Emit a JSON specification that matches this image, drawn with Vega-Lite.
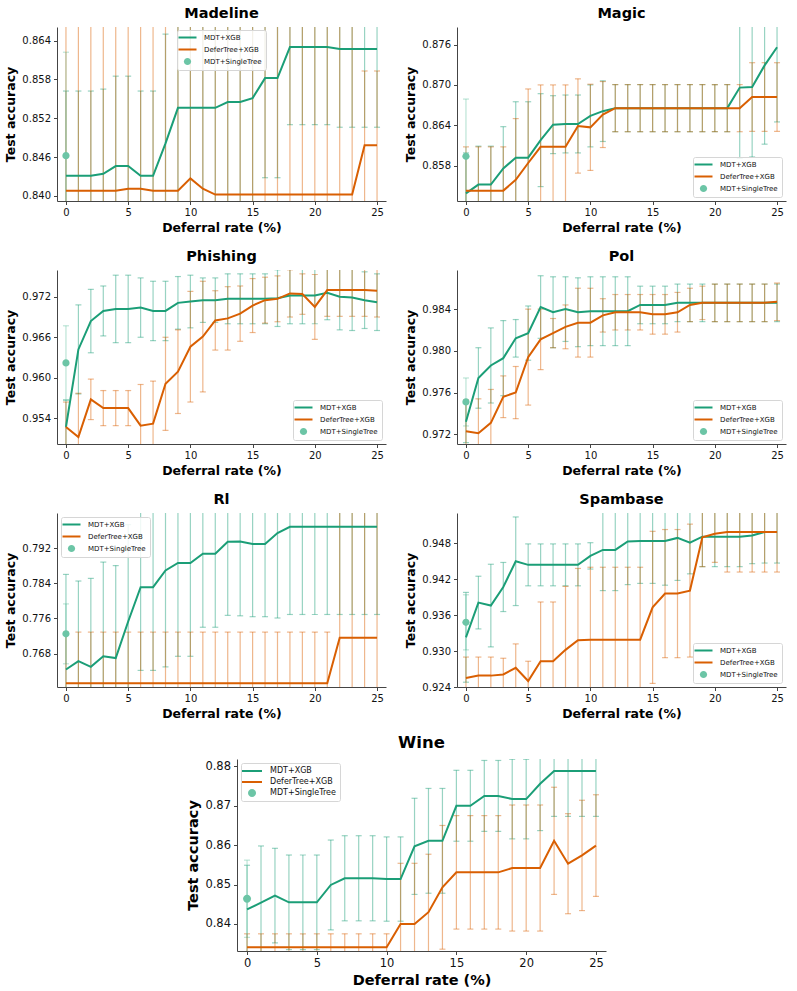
{
  "$schema": "https://vega.github.io/schema/vega-lite/v6.json",
  "padding": {"left": 4, "top": 5, "right": 4, "bottom": 2},
  "background": "white",
  "config": {
    "font": "DejaVu Sans",
    "view": {"stroke": null},
    "title": {"fontSize": 14.5, "fontWeight": "bold", "color": "#000", "anchor": "middle", "offset": 6},
    "axis": {
      "grid": false, "domainColor": "#444", "domainWidth": 1, "tickColor": "#444", "tickWidth": 1,
      "tickSize": 3.5, "labelFontSize": 10, "labelColor": "#111", "labelPadding": 3,
      "titleFontSize": 12.5, "titleFontWeight": "bold", "titleColor": "#000", "titlePadding": 4
    },
    "legend": {
      "labelFontSize": 7, "labelColor": "#111", "strokeColor": "#d6d6d6", "fillColor": "rgba(255,255,255,0.85)",
      "padding": 4, "cornerRadius": 2, "rowPadding": 3, "symbolSize": 324, "offset": 4, "symbolOffset": 3, "labelOffset": 13
    }
  },
  "datasets": {
    "Madeline": [
      {"s":"MDT+XGB","x":0,"y":0.8431,"e":0.0131},{"s":"MDT+XGB","x":1,"y":0.8431,"e":0.0131},{"s":"MDT+XGB","x":2,"y":0.8431,"e":0.0131},{"s":"MDT+XGB","x":3,"y":0.8434,"e":0.0131},{"s":"MDT+XGB","x":4,"y":0.8446,"e":0.0139},{"s":"MDT+XGB","x":5,"y":0.8446,"e":0.0139},{"s":"MDT+XGB","x":6,"y":0.8431,"e":0.0131},{"s":"MDT+XGB","x":7,"y":0.8431,"e":0.0131},{"s":"MDT+XGB","x":8,"y":0.8481,"e":0.0169},{"s":"MDT+XGB","x":9,"y":0.8536,"e":0.016},{"s":"MDT+XGB","x":10,"y":0.8536,"e":0.016},{"s":"MDT+XGB","x":11,"y":0.8536,"e":0.016},{"s":"MDT+XGB","x":12,"y":0.8536,"e":0.016},{"s":"MDT+XGB","x":13,"y":0.8545,"e":0.016},{"s":"MDT+XGB","x":14,"y":0.8545,"e":0.016},{"s":"MDT+XGB","x":15,"y":0.8551,"e":0.016},{"s":"MDT+XGB","x":16,"y":0.8582,"e":0.0154},{"s":"MDT+XGB","x":17,"y":0.8582,"e":0.0154},{"s":"MDT+XGB","x":18,"y":0.863,"e":0.012},{"s":"MDT+XGB","x":19,"y":0.863,"e":0.012},{"s":"MDT+XGB","x":20,"y":0.863,"e":0.012},{"s":"MDT+XGB","x":21,"y":0.863,"e":0.012},{"s":"MDT+XGB","x":22,"y":0.8627,"e":0.0121},{"s":"MDT+XGB","x":23,"y":0.8627,"e":0.0121},{"s":"MDT+XGB","x":24,"y":0.8627,"e":0.0121},{"s":"MDT+XGB","x":25,"y":0.8627,"e":0.0121},
      {"s":"DeferTree+XGB","x":0,"y":0.8408,"e":0.03},{"s":"DeferTree+XGB","x":1,"y":0.8408,"e":0.03},{"s":"DeferTree+XGB","x":2,"y":0.8408,"e":0.03},{"s":"DeferTree+XGB","x":3,"y":0.8408,"e":0.03},{"s":"DeferTree+XGB","x":4,"y":0.8408,"e":0.03},{"s":"DeferTree+XGB","x":5,"y":0.8411,"e":0.03},{"s":"DeferTree+XGB","x":6,"y":0.8411,"e":0.03},{"s":"DeferTree+XGB","x":7,"y":0.8408,"e":0.03},{"s":"DeferTree+XGB","x":8,"y":0.8408,"e":0.03},{"s":"DeferTree+XGB","x":9,"y":0.8408,"e":0.03},{"s":"DeferTree+XGB","x":10,"y":0.8427,"e":0.03},{"s":"DeferTree+XGB","x":11,"y":0.8411,"e":0.03},{"s":"DeferTree+XGB","x":12,"y":0.8402,"e":0.03},{"s":"DeferTree+XGB","x":13,"y":0.8402,"e":0.03},{"s":"DeferTree+XGB","x":14,"y":0.8402,"e":0.03},{"s":"DeferTree+XGB","x":15,"y":0.8402,"e":0.03},{"s":"DeferTree+XGB","x":16,"y":0.8402,"e":0.03},{"s":"DeferTree+XGB","x":17,"y":0.8402,"e":0.03},{"s":"DeferTree+XGB","x":18,"y":0.8402,"e":0.03},{"s":"DeferTree+XGB","x":19,"y":0.8402,"e":0.03},{"s":"DeferTree+XGB","x":20,"y":0.8402,"e":0.03},{"s":"DeferTree+XGB","x":21,"y":0.8402,"e":0.03},{"s":"DeferTree+XGB","x":22,"y":0.8402,"e":0.03},{"s":"DeferTree+XGB","x":23,"y":0.8402,"e":0.03},{"s":"DeferTree+XGB","x":24,"y":0.8478,"e":0.0115},{"s":"DeferTree+XGB","x":25,"y":0.8478,"e":0.0115},
      {"s":"MDT+SingleTree","x":0,"y":0.8462,"e":0.016}
    ],
    "Magic": [
      {"s":"MDT+XGB","x":0,"y":0.8539,"e":0.006},{"s":"MDT+XGB","x":1,"y":0.8552,"e":0.0057},{"s":"MDT+XGB","x":2,"y":0.8552,"e":0.0057},{"s":"MDT+XGB","x":3,"y":0.8576,"e":0.0062},{"s":"MDT+XGB","x":4,"y":0.8592,"e":0.0083},{"s":"MDT+XGB","x":5,"y":0.8592,"e":0.0083},{"s":"MDT+XGB","x":6,"y":0.8618,"e":0.0069},{"s":"MDT+XGB","x":7,"y":0.8641,"e":0.0043},{"s":"MDT+XGB","x":8,"y":0.8642,"e":0.0043},{"s":"MDT+XGB","x":9,"y":0.8642,"e":0.0043},{"s":"MDT+XGB","x":10,"y":0.8654,"e":0.0046},{"s":"MDT+XGB","x":11,"y":0.8661,"e":0.0045},{"s":"MDT+XGB","x":12,"y":0.86655,"e":0.0035},{"s":"MDT+XGB","x":13,"y":0.86655,"e":0.0035},{"s":"MDT+XGB","x":14,"y":0.86655,"e":0.0035},{"s":"MDT+XGB","x":15,"y":0.86655,"e":0.0035},{"s":"MDT+XGB","x":16,"y":0.86655,"e":0.0035},{"s":"MDT+XGB","x":17,"y":0.86655,"e":0.0035},{"s":"MDT+XGB","x":18,"y":0.86655,"e":0.0035},{"s":"MDT+XGB","x":19,"y":0.86655,"e":0.0035},{"s":"MDT+XGB","x":20,"y":0.86655,"e":0.0035},{"s":"MDT+XGB","x":21,"y":0.86655,"e":0.0035},{"s":"MDT+XGB","x":22,"y":0.8696,"e":0.0105},{"s":"MDT+XGB","x":23,"y":0.8697,"e":0.0104},{"s":"MDT+XGB","x":24,"y":0.8729,"e":0.0117},{"s":"MDT+XGB","x":25,"y":0.8756,"e":0.0111},
      {"s":"DeferTree+XGB","x":0,"y":0.8543,"e":0.0065},{"s":"DeferTree+XGB","x":1,"y":0.8543,"e":0.0065},{"s":"DeferTree+XGB","x":2,"y":0.8543,"e":0.0065},{"s":"DeferTree+XGB","x":3,"y":0.8543,"e":0.0065},{"s":"DeferTree+XGB","x":4,"y":0.8559,"e":0.0091},{"s":"DeferTree+XGB","x":5,"y":0.8584,"e":0.011},{"s":"DeferTree+XGB","x":6,"y":0.8608,"e":0.0092},{"s":"DeferTree+XGB","x":7,"y":0.8608,"e":0.0092},{"s":"DeferTree+XGB","x":8,"y":0.8608,"e":0.0092},{"s":"DeferTree+XGB","x":9,"y":0.8639,"e":0.007},{"s":"DeferTree+XGB","x":10,"y":0.8637,"e":0.0064},{"s":"DeferTree+XGB","x":11,"y":0.8656,"e":0.0049},{"s":"DeferTree+XGB","x":12,"y":0.86655,"e":0.0035},{"s":"DeferTree+XGB","x":13,"y":0.86655,"e":0.0035},{"s":"DeferTree+XGB","x":14,"y":0.86655,"e":0.0035},{"s":"DeferTree+XGB","x":15,"y":0.86655,"e":0.0035},{"s":"DeferTree+XGB","x":16,"y":0.86655,"e":0.0035},{"s":"DeferTree+XGB","x":17,"y":0.86655,"e":0.0035},{"s":"DeferTree+XGB","x":18,"y":0.86655,"e":0.0035},{"s":"DeferTree+XGB","x":19,"y":0.86655,"e":0.0035},{"s":"DeferTree+XGB","x":20,"y":0.86655,"e":0.0035},{"s":"DeferTree+XGB","x":21,"y":0.86655,"e":0.0035},{"s":"DeferTree+XGB","x":22,"y":0.86655,"e":0.0035},{"s":"DeferTree+XGB","x":23,"y":0.8682,"e":0.0051},{"s":"DeferTree+XGB","x":24,"y":0.8682,"e":0.0051},{"s":"DeferTree+XGB","x":25,"y":0.8682,"e":0.0051},
      {"s":"MDT+SingleTree","x":0,"y":0.8594,"e":0.0085}
    ],
    "Phishing": [
      {"s":"MDT+XGB","x":0,"y":0.9527,"e":0.004},{"s":"MDT+XGB","x":1,"y":0.9642,"e":0.0066},{"s":"MDT+XGB","x":2,"y":0.9684,"e":0.0047},{"s":"MDT+XGB","x":3,"y":0.9699,"e":0.0037},{"s":"MDT+XGB","x":4,"y":0.9702,"e":0.005},{"s":"MDT+XGB","x":5,"y":0.9702,"e":0.005},{"s":"MDT+XGB","x":6,"y":0.9704,"e":0.0044},{"s":"MDT+XGB","x":7,"y":0.9699,"e":0.0044},{"s":"MDT+XGB","x":8,"y":0.9699,"e":0.0044},{"s":"MDT+XGB","x":9,"y":0.9711,"e":0.0039},{"s":"MDT+XGB","x":10,"y":0.9713,"e":0.0039},{"s":"MDT+XGB","x":11,"y":0.9715,"e":0.0033},{"s":"MDT+XGB","x":12,"y":0.9715,"e":0.0033},{"s":"MDT+XGB","x":13,"y":0.9717,"e":0.0037},{"s":"MDT+XGB","x":14,"y":0.9717,"e":0.0037},{"s":"MDT+XGB","x":15,"y":0.9717,"e":0.0037},{"s":"MDT+XGB","x":16,"y":0.9717,"e":0.0037},{"s":"MDT+XGB","x":17,"y":0.9718,"e":0.0042},{"s":"MDT+XGB","x":18,"y":0.9722,"e":0.0042},{"s":"MDT+XGB","x":19,"y":0.9722,"e":0.0042},{"s":"MDT+XGB","x":20,"y":0.9722,"e":0.0042},{"s":"MDT+XGB","x":21,"y":0.9726,"e":0.004},{"s":"MDT+XGB","x":22,"y":0.972,"e":0.0049},{"s":"MDT+XGB","x":23,"y":0.9719,"e":0.0049},{"s":"MDT+XGB","x":24,"y":0.9715,"e":0.0042},{"s":"MDT+XGB","x":25,"y":0.9712,"e":0.0042},
      {"s":"DeferTree+XGB","x":0,"y":0.9527,"e":0.0037},{"s":"DeferTree+XGB","x":1,"y":0.9512,"e":0.0065},{"s":"DeferTree+XGB","x":2,"y":0.9568,"e":0.003},{"s":"DeferTree+XGB","x":3,"y":0.9555,"e":0.0026},{"s":"DeferTree+XGB","x":4,"y":0.9555,"e":0.0026},{"s":"DeferTree+XGB","x":5,"y":0.9555,"e":0.0026},{"s":"DeferTree+XGB","x":6,"y":0.9529,"e":0.0061},{"s":"DeferTree+XGB","x":7,"y":0.9532,"e":0.0063},{"s":"DeferTree+XGB","x":8,"y":0.9591,"e":0.0069},{"s":"DeferTree+XGB","x":9,"y":0.9609,"e":0.0062},{"s":"DeferTree+XGB","x":10,"y":0.9646,"e":0.0082},{"s":"DeferTree+XGB","x":11,"y":0.9661,"e":0.0082},{"s":"DeferTree+XGB","x":12,"y":0.9685,"e":0.0044},{"s":"DeferTree+XGB","x":13,"y":0.9688,"e":0.0047},{"s":"DeferTree+XGB","x":14,"y":0.9695,"e":0.0041},{"s":"DeferTree+XGB","x":15,"y":0.9707,"e":0.004},{"s":"DeferTree+XGB","x":16,"y":0.9715,"e":0.0034},{"s":"DeferTree+XGB","x":17,"y":0.9717,"e":0.0034},{"s":"DeferTree+XGB","x":18,"y":0.9725,"e":0.0035},{"s":"DeferTree+XGB","x":19,"y":0.9724,"e":0.003},{"s":"DeferTree+XGB","x":20,"y":0.9705,"e":0.0048},{"s":"DeferTree+XGB","x":21,"y":0.973,"e":0.0039},{"s":"DeferTree+XGB","x":22,"y":0.973,"e":0.0039},{"s":"DeferTree+XGB","x":23,"y":0.973,"e":0.0039},{"s":"DeferTree+XGB","x":24,"y":0.973,"e":0.0039},{"s":"DeferTree+XGB","x":25,"y":0.9729,"e":0.0039},
      {"s":"MDT+SingleTree","x":0,"y":0.9622,"e":0.0055}
    ],
    "Pol": [
      {"s":"MDT+XGB","x":0,"y":0.9732,"e":0.002},{"s":"MDT+XGB","x":1,"y":0.9774,"e":0.0029},{"s":"MDT+XGB","x":2,"y":0.9786,"e":0.0036},{"s":"MDT+XGB","x":3,"y":0.9793,"e":0.0036},{"s":"MDT+XGB","x":4,"y":0.9812,"e":0.0018},{"s":"MDT+XGB","x":5,"y":0.9817,"e":0.0026},{"s":"MDT+XGB","x":6,"y":0.9842,"e":0.003},{"s":"MDT+XGB","x":7,"y":0.9837,"e":0.0034},{"s":"MDT+XGB","x":8,"y":0.984,"e":0.0031},{"s":"MDT+XGB","x":9,"y":0.9837,"e":0.0033},{"s":"MDT+XGB","x":10,"y":0.9838,"e":0.0033},{"s":"MDT+XGB","x":11,"y":0.9838,"e":0.0033},{"s":"MDT+XGB","x":12,"y":0.9838,"e":0.0033},{"s":"MDT+XGB","x":13,"y":0.9838,"e":0.0033},{"s":"MDT+XGB","x":14,"y":0.9844,"e":0.0018},{"s":"MDT+XGB","x":15,"y":0.9844,"e":0.0018},{"s":"MDT+XGB","x":16,"y":0.9844,"e":0.0018},{"s":"MDT+XGB","x":17,"y":0.9846,"e":0.0018},{"s":"MDT+XGB","x":18,"y":0.9846,"e":0.0018},{"s":"MDT+XGB","x":19,"y":0.9846,"e":0.0018},{"s":"MDT+XGB","x":20,"y":0.9846,"e":0.0018},{"s":"MDT+XGB","x":21,"y":0.9846,"e":0.0018},{"s":"MDT+XGB","x":22,"y":0.9846,"e":0.0018},{"s":"MDT+XGB","x":23,"y":0.9846,"e":0.0018},{"s":"MDT+XGB","x":24,"y":0.9846,"e":0.0018},{"s":"MDT+XGB","x":25,"y":0.9846,"e":0.0018},
      {"s":"DeferTree+XGB","x":0,"y":0.9723,"e":0.003},{"s":"DeferTree+XGB","x":1,"y":0.9721,"e":0.0033},{"s":"DeferTree+XGB","x":2,"y":0.9731,"e":0.0032},{"s":"DeferTree+XGB","x":3,"y":0.9756,"e":0.002},{"s":"DeferTree+XGB","x":4,"y":0.976,"e":0.0025},{"s":"DeferTree+XGB","x":5,"y":0.9794,"e":0.0046},{"s":"DeferTree+XGB","x":6,"y":0.9811,"e":0.0029},{"s":"DeferTree+XGB","x":7,"y":0.9817,"e":0.0014},{"s":"DeferTree+XGB","x":8,"y":0.9823,"e":0.0021},{"s":"DeferTree+XGB","x":9,"y":0.9827,"e":0.0033},{"s":"DeferTree+XGB","x":10,"y":0.9827,"e":0.0033},{"s":"DeferTree+XGB","x":11,"y":0.9834,"e":0.0016},{"s":"DeferTree+XGB","x":12,"y":0.9837,"e":0.0017},{"s":"DeferTree+XGB","x":13,"y":0.9837,"e":0.0017},{"s":"DeferTree+XGB","x":14,"y":0.9837,"e":0.0017},{"s":"DeferTree+XGB","x":15,"y":0.9835,"e":0.0019},{"s":"DeferTree+XGB","x":16,"y":0.9835,"e":0.0019},{"s":"DeferTree+XGB","x":17,"y":0.9837,"e":0.0019},{"s":"DeferTree+XGB","x":18,"y":0.9844,"e":0.0016},{"s":"DeferTree+XGB","x":19,"y":0.9846,"e":0.0016},{"s":"DeferTree+XGB","x":20,"y":0.9846,"e":0.0018},{"s":"DeferTree+XGB","x":21,"y":0.9846,"e":0.0018},{"s":"DeferTree+XGB","x":22,"y":0.9846,"e":0.0018},{"s":"DeferTree+XGB","x":23,"y":0.9846,"e":0.0018},{"s":"DeferTree+XGB","x":24,"y":0.9846,"e":0.0018},{"s":"DeferTree+XGB","x":25,"y":0.9847,"e":0.0018},
      {"s":"MDT+SingleTree","x":0,"y":0.9751,"e":0.0023}
    ],
    "Rl": [
      {"s":"MDT+XGB","x":0,"y":0.7644,"e":0.0216},{"s":"MDT+XGB","x":1,"y":0.7663,"e":0.0182},{"s":"MDT+XGB","x":2,"y":0.765,"e":0.0201},{"s":"MDT+XGB","x":3,"y":0.7674,"e":0.0214},{"s":"MDT+XGB","x":4,"y":0.767,"e":0.021},{"s":"MDT+XGB","x":5,"y":0.7753,"e":0.022},{"s":"MDT+XGB","x":6,"y":0.7831,"e":0.0189},{"s":"MDT+XGB","x":7,"y":0.7831,"e":0.0189},{"s":"MDT+XGB","x":8,"y":0.7869,"e":0.0219},{"s":"MDT+XGB","x":9,"y":0.7886,"e":0.0212},{"s":"MDT+XGB","x":10,"y":0.7886,"e":0.0212},{"s":"MDT+XGB","x":11,"y":0.7907,"e":0.0167},{"s":"MDT+XGB","x":12,"y":0.7907,"e":0.0167},{"s":"MDT+XGB","x":13,"y":0.7934,"e":0.0167},{"s":"MDT+XGB","x":14,"y":0.7935,"e":0.0169},{"s":"MDT+XGB","x":15,"y":0.7929,"e":0.0165},{"s":"MDT+XGB","x":16,"y":0.7929,"e":0.0165},{"s":"MDT+XGB","x":17,"y":0.7954,"e":0.0193},{"s":"MDT+XGB","x":18,"y":0.7968,"e":0.0199},{"s":"MDT+XGB","x":19,"y":0.7968,"e":0.0199},{"s":"MDT+XGB","x":20,"y":0.7968,"e":0.0199},{"s":"MDT+XGB","x":21,"y":0.7968,"e":0.0199},{"s":"MDT+XGB","x":22,"y":0.7968,"e":0.0199},{"s":"MDT+XGB","x":23,"y":0.7968,"e":0.0199},{"s":"MDT+XGB","x":24,"y":0.7968,"e":0.0199},{"s":"MDT+XGB","x":25,"y":0.7968,"e":0.0199},
      {"s":"DeferTree+XGB","x":0,"y":0.7613,"e":0.0116},{"s":"DeferTree+XGB","x":1,"y":0.7613,"e":0.0116},{"s":"DeferTree+XGB","x":2,"y":0.7613,"e":0.0116},{"s":"DeferTree+XGB","x":3,"y":0.7613,"e":0.0116},{"s":"DeferTree+XGB","x":4,"y":0.7613,"e":0.0116},{"s":"DeferTree+XGB","x":5,"y":0.7613,"e":0.0116},{"s":"DeferTree+XGB","x":6,"y":0.7613,"e":0.0116},{"s":"DeferTree+XGB","x":7,"y":0.7613,"e":0.0116},{"s":"DeferTree+XGB","x":8,"y":0.7613,"e":0.0116},{"s":"DeferTree+XGB","x":9,"y":0.7613,"e":0.0116},{"s":"DeferTree+XGB","x":10,"y":0.7613,"e":0.0116},{"s":"DeferTree+XGB","x":11,"y":0.7613,"e":0.0116},{"s":"DeferTree+XGB","x":12,"y":0.7613,"e":0.0116},{"s":"DeferTree+XGB","x":13,"y":0.7613,"e":0.0116},{"s":"DeferTree+XGB","x":14,"y":0.7613,"e":0.0116},{"s":"DeferTree+XGB","x":15,"y":0.7613,"e":0.0116},{"s":"DeferTree+XGB","x":16,"y":0.7613,"e":0.0116},{"s":"DeferTree+XGB","x":17,"y":0.7613,"e":0.0116},{"s":"DeferTree+XGB","x":18,"y":0.7613,"e":0.0116},{"s":"DeferTree+XGB","x":19,"y":0.7613,"e":0.0116},{"s":"DeferTree+XGB","x":20,"y":0.7613,"e":0.0116},{"s":"DeferTree+XGB","x":21,"y":0.7613,"e":0.0116},{"s":"DeferTree+XGB","x":22,"y":0.7716,"e":0.03},{"s":"DeferTree+XGB","x":23,"y":0.7716,"e":0.03},{"s":"DeferTree+XGB","x":24,"y":0.7716,"e":0.03},{"s":"DeferTree+XGB","x":25,"y":0.7716,"e":0.03},
      {"s":"MDT+SingleTree","x":0,"y":0.7725,"e":0.0068}
    ],
    "Spambase": [
      {"s":"MDT+XGB","x":0,"y":0.9323,"e":0.0075},{"s":"MDT+XGB","x":1,"y":0.9381,"e":0.0044},{"s":"MDT+XGB","x":2,"y":0.9376,"e":0.0069},{"s":"MDT+XGB","x":3,"y":0.9407,"e":0.0041},{"s":"MDT+XGB","x":4,"y":0.945,"e":0.0074},{"s":"MDT+XGB","x":5,"y":0.9444,"e":0.0035},{"s":"MDT+XGB","x":6,"y":0.9444,"e":0.0035},{"s":"MDT+XGB","x":7,"y":0.9444,"e":0.0035},{"s":"MDT+XGB","x":8,"y":0.9444,"e":0.0035},{"s":"MDT+XGB","x":9,"y":0.9444,"e":0.0035},{"s":"MDT+XGB","x":10,"y":0.9459,"e":0.0022},{"s":"MDT+XGB","x":11,"y":0.9469,"e":0.0068},{"s":"MDT+XGB","x":12,"y":0.9469,"e":0.0068},{"s":"MDT+XGB","x":13,"y":0.9483,"e":0.0072},{"s":"MDT+XGB","x":14,"y":0.9484,"e":0.0071},{"s":"MDT+XGB","x":15,"y":0.9484,"e":0.0071},{"s":"MDT+XGB","x":16,"y":0.9484,"e":0.0074},{"s":"MDT+XGB","x":17,"y":0.9489,"e":0.0071},{"s":"MDT+XGB","x":18,"y":0.9481,"e":0.0052},{"s":"MDT+XGB","x":19,"y":0.9491,"e":0.005},{"s":"MDT+XGB","x":20,"y":0.9491,"e":0.005},{"s":"MDT+XGB","x":21,"y":0.9491,"e":0.005},{"s":"MDT+XGB","x":22,"y":0.9491,"e":0.005},{"s":"MDT+XGB","x":23,"y":0.9493,"e":0.0047},{"s":"MDT+XGB","x":24,"y":0.9499,"e":0.0052},{"s":"MDT+XGB","x":25,"y":0.9499,"e":0.0052},
      {"s":"DeferTree+XGB","x":0,"y":0.9255,"e":0.0035},{"s":"DeferTree+XGB","x":1,"y":0.9259,"e":0.0031},{"s":"DeferTree+XGB","x":2,"y":0.9259,"e":0.0031},{"s":"DeferTree+XGB","x":3,"y":0.9261,"e":0.0027},{"s":"DeferTree+XGB","x":4,"y":0.9272,"e":0.004},{"s":"DeferTree+XGB","x":5,"y":0.925,"e":0.0033},{"s":"DeferTree+XGB","x":6,"y":0.9283,"e":0.0099},{"s":"DeferTree+XGB","x":7,"y":0.9283,"e":0.0099},{"s":"DeferTree+XGB","x":8,"y":0.9302,"e":0.0106},{"s":"DeferTree+XGB","x":9,"y":0.9318,"e":0.012},{"s":"DeferTree+XGB","x":10,"y":0.9319,"e":0.0121},{"s":"DeferTree+XGB","x":11,"y":0.9319,"e":0.0121},{"s":"DeferTree+XGB","x":12,"y":0.9319,"e":0.0121},{"s":"DeferTree+XGB","x":13,"y":0.9319,"e":0.0121},{"s":"DeferTree+XGB","x":14,"y":0.9319,"e":0.0121},{"s":"DeferTree+XGB","x":15,"y":0.9373,"e":0.0127},{"s":"DeferTree+XGB","x":16,"y":0.9396,"e":0.0107},{"s":"DeferTree+XGB","x":17,"y":0.9396,"e":0.0107},{"s":"DeferTree+XGB","x":18,"y":0.9401,"e":0.0111},{"s":"DeferTree+XGB","x":19,"y":0.949,"e":0.0049},{"s":"DeferTree+XGB","x":20,"y":0.9496,"e":0.0048},{"s":"DeferTree+XGB","x":21,"y":0.9499,"e":0.0067},{"s":"DeferTree+XGB","x":22,"y":0.9499,"e":0.0067},{"s":"DeferTree+XGB","x":23,"y":0.9499,"e":0.0067},{"s":"DeferTree+XGB","x":24,"y":0.9499,"e":0.0067},{"s":"DeferTree+XGB","x":25,"y":0.9499,"e":0.0067},
      {"s":"MDT+SingleTree","x":0,"y":0.9348,"e":0.0046}
    ],
    "Wine": [
      {"s":"MDT+XGB","x":0,"y":0.8437,"e":0.0112},{"s":"MDT+XGB","x":1,"y":0.8454,"e":0.0144},{"s":"MDT+XGB","x":2,"y":0.8472,"e":0.012},{"s":"MDT+XGB","x":3,"y":0.8455,"e":0.012},{"s":"MDT+XGB","x":4,"y":0.8455,"e":0.012},{"s":"MDT+XGB","x":5,"y":0.8455,"e":0.012},{"s":"MDT+XGB","x":6,"y":0.8499,"e":0.0114},{"s":"MDT+XGB","x":7,"y":0.8516,"e":0.0108},{"s":"MDT+XGB","x":8,"y":0.8516,"e":0.0108},{"s":"MDT+XGB","x":9,"y":0.8516,"e":0.0108},{"s":"MDT+XGB","x":10,"y":0.8514,"e":0.0107},{"s":"MDT+XGB","x":11,"y":0.8514,"e":0.0107},{"s":"MDT+XGB","x":12,"y":0.8597,"e":0.0122},{"s":"MDT+XGB","x":13,"y":0.8611,"e":0.0133},{"s":"MDT+XGB","x":14,"y":0.8611,"e":0.0133},{"s":"MDT+XGB","x":15,"y":0.87,"e":0.009},{"s":"MDT+XGB","x":16,"y":0.87,"e":0.009},{"s":"MDT+XGB","x":17,"y":0.8725,"e":0.009},{"s":"MDT+XGB","x":18,"y":0.8725,"e":0.009},{"s":"MDT+XGB","x":19,"y":0.8717,"e":0.0101},{"s":"MDT+XGB","x":20,"y":0.8717,"e":0.0101},{"s":"MDT+XGB","x":21,"y":0.8756,"e":0.0119},{"s":"MDT+XGB","x":22,"y":0.8788,"e":0.0115},{"s":"MDT+XGB","x":23,"y":0.8788,"e":0.0115},{"s":"MDT+XGB","x":24,"y":0.8788,"e":0.0115},{"s":"MDT+XGB","x":25,"y":0.8788,"e":0.0115},
      {"s":"DeferTree+XGB","x":0,"y":0.8341,"e":0.0034},{"s":"DeferTree+XGB","x":1,"y":0.8341,"e":0.0034},{"s":"DeferTree+XGB","x":2,"y":0.8341,"e":0.0034},{"s":"DeferTree+XGB","x":3,"y":0.8341,"e":0.0034},{"s":"DeferTree+XGB","x":4,"y":0.8341,"e":0.0034},{"s":"DeferTree+XGB","x":5,"y":0.8341,"e":0.0034},{"s":"DeferTree+XGB","x":6,"y":0.8341,"e":0.0034},{"s":"DeferTree+XGB","x":7,"y":0.8341,"e":0.0034},{"s":"DeferTree+XGB","x":8,"y":0.8341,"e":0.0034},{"s":"DeferTree+XGB","x":9,"y":0.8341,"e":0.0034},{"s":"DeferTree+XGB","x":10,"y":0.8341,"e":0.0034},{"s":"DeferTree+XGB","x":11,"y":0.84,"e":0.0154},{"s":"DeferTree+XGB","x":12,"y":0.84,"e":0.0154},{"s":"DeferTree+XGB","x":13,"y":0.843,"e":0.0147},{"s":"DeferTree+XGB","x":14,"y":0.8493,"e":0.0157},{"s":"DeferTree+XGB","x":15,"y":0.8531,"e":0.0144},{"s":"DeferTree+XGB","x":16,"y":0.8531,"e":0.0144},{"s":"DeferTree+XGB","x":17,"y":0.8531,"e":0.0144},{"s":"DeferTree+XGB","x":18,"y":0.8531,"e":0.0144},{"s":"DeferTree+XGB","x":19,"y":0.8542,"e":0.016},{"s":"DeferTree+XGB","x":20,"y":0.8542,"e":0.016},{"s":"DeferTree+XGB","x":21,"y":0.8542,"e":0.016},{"s":"DeferTree+XGB","x":22,"y":0.8611,"e":0.0136},{"s":"DeferTree+XGB","x":23,"y":0.8553,"e":0.0127},{"s":"DeferTree+XGB","x":24,"y":0.8574,"e":0.014},{"s":"DeferTree+XGB","x":25,"y":0.8599,"e":0.0129},
      {"s":"MDT+SingleTree","x":0,"y":0.8464,"e":0.0098}
    ]
  },
  "resolve": {"scale": {"color": "independent", "shape": "independent"}, "legend": {"color": "independent", "shape": "independent"}},
  "spacing": 14,
  "center": true,
  "vconcat": [
    {
      "hconcat": [
        {
          "title": "Madeline", "width": 329, "height": 174, "data": {"name": "Madeline"},
          "encoding": {
            "x": {"field": "x", "type": "quantitative", "scale": {"domain": [-0.72, 25.72], "nice": false, "zero": false}, "axis": {"values": [0, 5, 10, 15, 20, 25], "title": "Deferral rate (%)"}},
            "y": {"field": "y", "type": "quantitative", "scale": {"domain": [0.8392, 0.8661], "nice": false, "zero": false}, "axis": {"values": [0.840, 0.846, 0.852, 0.858, 0.864], "format": ".3f", "title": "Test accuracy"}},
            "color": {"field": "s", "type": "nominal", "scale": {"domain": ["MDT+XGB", "DeferTree+XGB", "MDT+SingleTree"], "range": ["#1b9e77", "#d95f02", "#6cc5a6"]},
              "legend": {"title": null, "orient": "none", "legendX": 120, "legendY": 3, "encode": {"symbols": {"update": {"opacity": {"value": 1}, "strokeWidth": {"signal": "datum.value === 'MDT+SingleTree' ? 0 : 2"}}}}}}
          },
          "layer": [
            {"mark": {"type": "errorbar", "ticks": {"size": 6}, "thickness": 1.2, "opacity": 0.45, "clip": true}, "encoding": {"yError": {"field": "e"}}},
            {"transform": [{"filter": "datum.s !== 'MDT+SingleTree'"}], "mark": {"type": "line", "strokeWidth": 2, "clip": true}},
            {"transform": [{"filter": "datum.s === 'MDT+SingleTree'"}], "mark": {"type": "point", "filled": true, "opacity": 1, "size": 324, "clip": true},
             "encoding": {"shape": {"field": "s", "type": "nominal", "scale": {"domain": ["MDT+XGB", "DeferTree+XGB", "MDT+SingleTree"], "range": ["stroke", "stroke", "M0.4,0A0.4,0.4 0 1,1 -0.4,0A0.4,0.4 0 1,1 0.4,0Z"]},
               "legend": {"title": null, "orient": "none", "legendX": 120, "legendY": 3, "encode": {"symbols": {"update": {"opacity": {"value": 1}, "strokeWidth": {"signal": "datum.value === 'MDT+SingleTree' ? 0 : 2"}}}}}}}}
          ]
        },
        {
          "title": "Magic", "width": 329, "height": 174, "data": {"name": "Magic"},
          "encoding": {
            "x": {"field": "x", "type": "quantitative", "scale": {"domain": [-0.72, 25.72], "nice": false, "zero": false}, "axis": {"values": [0, 5, 10, 15, 20, 25], "title": "Deferral rate (%)"}},
            "y": {"field": "y", "type": "quantitative", "scale": {"domain": [0.85276, 0.8786], "nice": false, "zero": false}, "axis": {"values": [0.858, 0.864, 0.870, 0.876], "format": ".3f", "title": "Test accuracy"}},
            "color": {"field": "s", "type": "nominal", "scale": {"domain": ["MDT+XGB", "DeferTree+XGB", "MDT+SingleTree"], "range": ["#1b9e77", "#d95f02", "#6cc5a6"]},
              "legend": {"title": null, "orient": "bottom-right", "encode": {"symbols": {"update": {"opacity": {"value": 1}, "strokeWidth": {"signal": "datum.value === 'MDT+SingleTree' ? 0 : 2"}}}}}}
          },
          "layer": [
            {"mark": {"type": "errorbar", "ticks": {"size": 6}, "thickness": 1.2, "opacity": 0.45, "clip": true}, "encoding": {"yError": {"field": "e"}}},
            {"transform": [{"filter": "datum.s !== 'MDT+SingleTree'"}], "mark": {"type": "line", "strokeWidth": 2, "clip": true}},
            {"transform": [{"filter": "datum.s === 'MDT+SingleTree'"}], "mark": {"type": "point", "filled": true, "opacity": 1, "size": 324, "clip": true},
             "encoding": {"shape": {"field": "s", "type": "nominal", "scale": {"domain": ["MDT+XGB", "DeferTree+XGB", "MDT+SingleTree"], "range": ["stroke", "stroke", "M0.4,0A0.4,0.4 0 1,1 -0.4,0A0.4,0.4 0 1,1 0.4,0Z"]},
               "legend": {"title": null, "orient": "bottom-right", "encode": {"symbols": {"update": {"opacity": {"value": 1}, "strokeWidth": {"signal": "datum.value === 'MDT+SingleTree' ? 0 : 2"}}}}}}}}
          ]
        }
      ],
      "spacing": 18,
      "resolve": {"scale": {"color": "independent", "shape": "independent"}, "legend": {"color": "independent", "shape": "independent"}}
    },
    {
      "hconcat": [
        {
          "title": "Phishing", "width": 329, "height": 174, "data": {"name": "Phishing"},
          "encoding": {
            "x": {"field": "x", "type": "quantitative", "scale": {"domain": [-0.72, 25.72], "nice": false, "zero": false}, "axis": {"values": [0, 5, 10, 15, 20, 25], "title": "Deferral rate (%)"}},
            "y": {"field": "y", "type": "quantitative", "scale": {"domain": [0.95018, 0.97597], "nice": false, "zero": false}, "axis": {"values": [0.954, 0.960, 0.966, 0.972], "format": ".3f", "title": "Test accuracy"}},
            "color": {"field": "s", "type": "nominal", "scale": {"domain": ["MDT+XGB", "DeferTree+XGB", "MDT+SingleTree"], "range": ["#1b9e77", "#d95f02", "#6cc5a6"]},
              "legend": {"title": null, "orient": "bottom-right", "encode": {"symbols": {"update": {"opacity": {"value": 1}, "strokeWidth": {"signal": "datum.value === 'MDT+SingleTree' ? 0 : 2"}}}}}}
          },
          "layer": [
            {"mark": {"type": "errorbar", "ticks": {"size": 6}, "thickness": 1.2, "opacity": 0.45, "clip": true}, "encoding": {"yError": {"field": "e"}}},
            {"transform": [{"filter": "datum.s !== 'MDT+SingleTree'"}], "mark": {"type": "line", "strokeWidth": 2, "clip": true}},
            {"transform": [{"filter": "datum.s === 'MDT+SingleTree'"}], "mark": {"type": "point", "filled": true, "opacity": 1, "size": 324, "clip": true},
             "encoding": {"shape": {"field": "s", "type": "nominal", "scale": {"domain": ["MDT+XGB", "DeferTree+XGB", "MDT+SingleTree"], "range": ["stroke", "stroke", "M0.4,0A0.4,0.4 0 1,1 -0.4,0A0.4,0.4 0 1,1 0.4,0Z"]},
               "legend": {"title": null, "orient": "bottom-right", "encode": {"symbols": {"update": {"opacity": {"value": 1}, "strokeWidth": {"signal": "datum.value === 'MDT+SingleTree' ? 0 : 2"}}}}}}}}
          ]
        },
        {
          "title": "Pol", "width": 329, "height": 174, "data": {"name": "Pol"},
          "encoding": {
            "x": {"field": "x", "type": "quantitative", "scale": {"domain": [-0.72, 25.72], "nice": false, "zero": false}, "axis": {"values": [0, 5, 10, 15, 20, 25], "title": "Deferral rate (%)"}},
            "y": {"field": "y", "type": "quantitative", "scale": {"domain": [0.97107, 0.98775], "nice": false, "zero": false}, "axis": {"values": [0.972, 0.976, 0.980, 0.984], "format": ".3f", "title": "Test accuracy"}},
            "color": {"field": "s", "type": "nominal", "scale": {"domain": ["MDT+XGB", "DeferTree+XGB", "MDT+SingleTree"], "range": ["#1b9e77", "#d95f02", "#6cc5a6"]},
              "legend": {"title": null, "orient": "bottom-right", "encode": {"symbols": {"update": {"opacity": {"value": 1}, "strokeWidth": {"signal": "datum.value === 'MDT+SingleTree' ? 0 : 2"}}}}}}
          },
          "layer": [
            {"mark": {"type": "errorbar", "ticks": {"size": 6}, "thickness": 1.2, "opacity": 0.45, "clip": true}, "encoding": {"yError": {"field": "e"}}},
            {"transform": [{"filter": "datum.s !== 'MDT+SingleTree'"}], "mark": {"type": "line", "strokeWidth": 2, "clip": true}},
            {"transform": [{"filter": "datum.s === 'MDT+SingleTree'"}], "mark": {"type": "point", "filled": true, "opacity": 1, "size": 324, "clip": true},
             "encoding": {"shape": {"field": "s", "type": "nominal", "scale": {"domain": ["MDT+XGB", "DeferTree+XGB", "MDT+SingleTree"], "range": ["stroke", "stroke", "M0.4,0A0.4,0.4 0 1,1 -0.4,0A0.4,0.4 0 1,1 0.4,0Z"]},
               "legend": {"title": null, "orient": "bottom-right", "encode": {"symbols": {"update": {"opacity": {"value": 1}, "strokeWidth": {"signal": "datum.value === 'MDT+SingleTree' ? 0 : 2"}}}}}}}}
          ]
        }
      ],
      "spacing": 18,
      "resolve": {"scale": {"color": "independent", "shape": "independent"}, "legend": {"color": "independent", "shape": "independent"}}
    },
    {
      "hconcat": [
        {
          "title": "Rl", "width": 329, "height": 174, "data": {"name": "Rl"},
          "encoding": {
            "x": {"field": "x", "type": "quantitative", "scale": {"domain": [-0.72, 25.72], "nice": false, "zero": false}, "axis": {"values": [0, 5, 10, 15, 20, 25], "title": "Deferral rate (%)"}},
            "y": {"field": "y", "type": "quantitative", "scale": {"domain": [0.76043, 0.79995], "nice": false, "zero": false}, "axis": {"values": [0.768, 0.776, 0.784, 0.792], "format": ".3f", "title": "Test accuracy"}},
            "color": {"field": "s", "type": "nominal", "scale": {"domain": ["MDT+XGB", "DeferTree+XGB", "MDT+SingleTree"], "range": ["#1b9e77", "#d95f02", "#6cc5a6"]},
              "legend": {"title": null, "orient": "top-left", "encode": {"symbols": {"update": {"opacity": {"value": 1}, "strokeWidth": {"signal": "datum.value === 'MDT+SingleTree' ? 0 : 2"}}}}}}
          },
          "layer": [
            {"mark": {"type": "errorbar", "ticks": {"size": 6}, "thickness": 1.2, "opacity": 0.45, "clip": true}, "encoding": {"yError": {"field": "e"}}},
            {"transform": [{"filter": "datum.s !== 'MDT+SingleTree'"}], "mark": {"type": "line", "strokeWidth": 2, "clip": true}},
            {"transform": [{"filter": "datum.s === 'MDT+SingleTree'"}], "mark": {"type": "point", "filled": true, "opacity": 1, "size": 324, "clip": true},
             "encoding": {"shape": {"field": "s", "type": "nominal", "scale": {"domain": ["MDT+XGB", "DeferTree+XGB", "MDT+SingleTree"], "range": ["stroke", "stroke", "M0.4,0A0.4,0.4 0 1,1 -0.4,0A0.4,0.4 0 1,1 0.4,0Z"]},
               "legend": {"title": null, "orient": "top-left", "encode": {"symbols": {"update": {"opacity": {"value": 1}, "strokeWidth": {"signal": "datum.value === 'MDT+SingleTree' ? 0 : 2"}}}}}}}}
          ]
        },
        {
          "title": "Spambase", "width": 329, "height": 174, "data": {"name": "Spambase"},
          "encoding": {
            "x": {"field": "x", "type": "quantitative", "scale": {"domain": [-0.72, 25.72], "nice": false, "zero": false}, "axis": {"values": [0, 5, 10, 15, 20, 25], "title": "Deferral rate (%)"}},
            "y": {"field": "y", "type": "quantitative", "scale": {"domain": [0.924, 0.95306], "nice": false, "zero": false}, "axis": {"values": [0.924, 0.930, 0.936, 0.942, 0.948], "format": ".3f", "title": "Test accuracy"}},
            "color": {"field": "s", "type": "nominal", "scale": {"domain": ["MDT+XGB", "DeferTree+XGB", "MDT+SingleTree"], "range": ["#1b9e77", "#d95f02", "#6cc5a6"]},
              "legend": {"title": null, "orient": "bottom-right", "encode": {"symbols": {"update": {"opacity": {"value": 1}, "strokeWidth": {"signal": "datum.value === 'MDT+SingleTree' ? 0 : 2"}}}}}}
          },
          "layer": [
            {"mark": {"type": "errorbar", "ticks": {"size": 6}, "thickness": 1.2, "opacity": 0.45, "clip": true}, "encoding": {"yError": {"field": "e"}}},
            {"transform": [{"filter": "datum.s !== 'MDT+SingleTree'"}], "mark": {"type": "line", "strokeWidth": 2, "clip": true}},
            {"transform": [{"filter": "datum.s === 'MDT+SingleTree'"}], "mark": {"type": "point", "filled": true, "opacity": 1, "size": 324, "clip": true},
             "encoding": {"shape": {"field": "s", "type": "nominal", "scale": {"domain": ["MDT+XGB", "DeferTree+XGB", "MDT+SingleTree"], "range": ["stroke", "stroke", "M0.4,0A0.4,0.4 0 1,1 -0.4,0A0.4,0.4 0 1,1 0.4,0Z"]},
               "legend": {"title": null, "orient": "bottom-right", "encode": {"symbols": {"update": {"opacity": {"value": 1}, "strokeWidth": {"signal": "datum.value === 'MDT+SingleTree' ? 0 : 2"}}}}}}}}
          ]
        }
      ],
      "spacing": 18,
      "resolve": {"scale": {"color": "independent", "shape": "independent"}, "legend": {"color": "independent", "shape": "independent"}}
    },
    {
      "title": {"text": "Wine", "fontSize": 16.5, "offset": 8}, "width": 369, "height": 192, "data": {"name": "Wine"},
      "encoding": {
        "x": {"field": "x", "type": "quantitative", "scale": {"domain": [-0.72, 25.72], "nice": false, "zero": false}, "axis": {"values": [0, 5, 10, 15, 20, 25], "title": "Deferral rate (%)", "labelFontSize": 11.5, "titleFontSize": 14.5}},
        "y": {"field": "y", "type": "quantitative", "scale": {"domain": [0.83314, 0.88187], "nice": false, "zero": false}, "axis": {"values": [0.84, 0.85, 0.86, 0.87, 0.88], "format": ".2f", "title": "Test accuracy", "labelFontSize": 11.5, "titleFontSize": 14.5}},
        "color": {"field": "s", "type": "nominal", "scale": {"domain": ["MDT+XGB", "DeferTree+XGB", "MDT+SingleTree"], "range": ["#1b9e77", "#d95f02", "#6cc5a6"]},
          "legend": {"title": null, "orient": "top-left", "labelFontSize": 8, "symbolSize": 400, "labelOffset": 14, "encode": {"symbols": {"update": {"opacity": {"value": 1}, "strokeWidth": {"signal": "datum.value === 'MDT+SingleTree' ? 0 : 2"}}}}}}
      },
      "layer": [
        {"mark": {"type": "errorbar", "ticks": {"size": 6}, "thickness": 1.2, "opacity": 0.45, "clip": true}, "encoding": {"yError": {"field": "e"}}},
        {"transform": [{"filter": "datum.s !== 'MDT+SingleTree'"}], "mark": {"type": "line", "strokeWidth": 2, "clip": true}},
        {"transform": [{"filter": "datum.s === 'MDT+SingleTree'"}], "mark": {"type": "point", "filled": true, "opacity": 1, "size": 400, "clip": true},
         "encoding": {"shape": {"field": "s", "type": "nominal", "scale": {"domain": ["MDT+XGB", "DeferTree+XGB", "MDT+SingleTree"], "range": ["stroke", "stroke", "M0.4,0A0.4,0.4 0 1,1 -0.4,0A0.4,0.4 0 1,1 0.4,0Z"]},
           "legend": {"title": null, "orient": "top-left", "labelFontSize": 8, "symbolSize": 400, "labelOffset": 14, "encode": {"symbols": {"update": {"opacity": {"value": 1}, "strokeWidth": {"signal": "datum.value === 'MDT+SingleTree' ? 0 : 2"}}}}}}}}
      ]
    }
  ]
}
